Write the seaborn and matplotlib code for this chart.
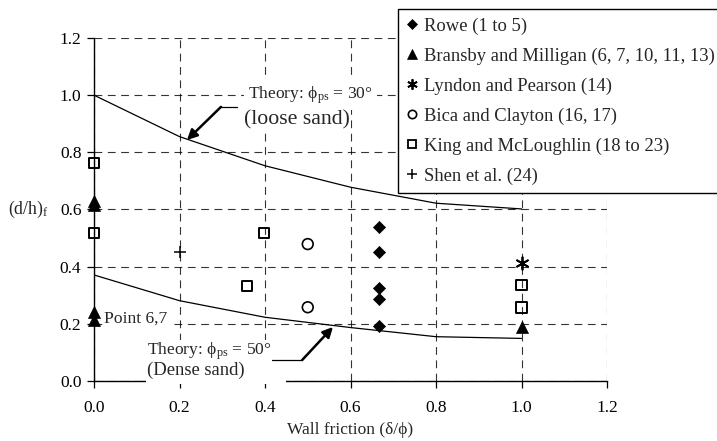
import matplotlib
matplotlib.use("Agg")
import matplotlib.pyplot as plt
from matplotlib.patches import Rectangle
from matplotlib.lines import Line2D
import seaborn as sns

# Measured failure depths (d/h)_f against wall friction ratio delta/phi
rowe_x = [0.667, 0.667, 0.667, 0.667, 0.667]
rowe_y = [0.54, 0.45, 0.325, 0.287, 0.194]

bransby_x = [0.0, 0.0, 0.0, 0.0, 1.0]
bransby_y = [0.63, 0.615, 0.24, 0.212, 0.189]

lyndon_x = [1.0]
lyndon_y = [0.413]

bica_x = [0.5, 0.5]
bica_y = [0.479, 0.258]

king_x = [0.0, 0.0, 0.358, 0.397, 1.0, 1.0]
king_y = [0.763, 0.518, 0.332, 0.517, 0.337, 0.257]

shen_x = [0.2]
shen_y = [0.452]

# Theoretical curves
theory_x = [0.0, 0.2, 0.4, 0.6, 0.8, 1.0]
loose_y = [1.0, 0.855, 0.753, 0.678, 0.622, 0.602]
dense_y = [0.371, 0.281, 0.223, 0.187, 0.155, 0.149]

x_ticks = [0.0, 0.2, 0.4, 0.6, 0.8, 1.0, 1.2]
y_ticks = [0.0, 0.2, 0.4, 0.6, 0.8, 1.0, 1.2]

sns.set_style("white")
plt.rcParams["font.family"] = ["Liberation Serif", "DejaVu Serif"]
plt.rcParams["mathtext.fontset"] = "custom"
plt.rcParams["mathtext.rm"] = "Liberation Serif"
plt.rcParams["mathtext.it"] = "Liberation Serif:italic"

PHI = "\u03d5"

fig = plt.figure(figsize=(7.17, 4.41), dpi=100)
ax = fig.add_axes([94 / 717, 1 - 381 / 441, 513 / 717, 343 / 441])

# theory curves
sns.lineplot(x=theory_x, y=loose_y, ax=ax, color="black", linewidth=0.9,
             sort=False, estimator=None, zorder=2)
sns.lineplot(x=theory_x, y=dense_y, ax=ax, color="black", linewidth=0.9,
             sort=False, estimator=None, zorder=2)

common = dict(ax=ax, color="black", zorder=5, legend=False, clip_on=False)
sns.scatterplot(x=rowe_x, y=rowe_y, marker="D", s=38, edgecolor="black",
                linewidth=0.5, **common)
sns.scatterplot(x=bransby_x, y=bransby_y, marker="^", s=75, edgecolor="black",
                linewidth=0.5, **common)
sns.scatterplot(x=lyndon_x, y=lyndon_y, marker=(6, 2, 0), s=80, edgecolor="black",
                linewidth=1.3, **common)
sns.scatterplot(x=bica_x, y=bica_y, marker="o", s=60, facecolor="none",
                edgecolor="black", linewidth=1.2, **common)
sns.scatterplot(x=king_x, y=king_y, marker="s", s=55, facecolor="none",
                edgecolor="black", linewidth=1.4, **common)
sns.scatterplot(x=shen_x, y=shen_y, marker="+", s=70, edgecolor="black",
                linewidth=1.1, **common)

ax.set_xlim(0, 1.2)
ax.set_ylim(0, 1.2)
ax.set_xticks(x_ticks)
ax.set_yticks(y_ticks)
ax.set_xticklabels([f"{v:.1f}" for v in x_ticks], fontsize=12.5)
ax.set_yticklabels([f"{v:.1f}" for v in y_ticks], fontsize=12.5)
ax.tick_params(axis="both", direction="out", length=5, width=0.9, colors="black",
               bottom=True, left=True)
ax.tick_params(axis="x", pad=9)
ax.tick_params(axis="y", pad=4)
ax.grid(True, color="black", linestyle=(0, (7, 5)), linewidth=0.8, alpha=0.8)
ax.set_axisbelow(True)
for side in ("top", "right"):
    ax.spines[side].set_visible(False)
for side in ("left", "bottom"):
    ax.spines[side].set_color("black")
    ax.spines[side].set_linewidth(1.0)

ax.set_xlabel(f"Wall friction (δ/{PHI})", fontsize=12.5, labelpad=4)
ax.set_ylabel("(d/h)$_\\mathrm{f}$", fontsize=12.8, rotation=0, va="center", ha="center")
ax.yaxis.set_label_coords(-0.127, 0.5)

arrow_style = dict(arrowstyle="-|>,head_length=0.6,head_width=0.3",
                   color="black", linewidth=1.8, shrinkA=0, shrinkB=0)

# loose sand annotation
ax.text(0.360, 1.0, f"Theory: {PHI}$_\\mathrm{{ps}}$ = 30°", fontsize=12.6,
        va="center", ha="left",
        bbox=dict(facecolor="white", edgecolor="none", pad=3), zorder=4)
ax.text(0.351, 0.913, "(loose sand)", fontsize=15.7, va="center", ha="left",
        bbox=dict(facecolor="white", edgecolor="none", pad=1), zorder=4)
ax.plot([0.334, 0.297], [0.959, 0.959], color="black", linewidth=0.9, zorder=4)
ax.annotate("", xy=(0.2175, 0.843), xytext=(0.297, 0.959),
            arrowprops=arrow_style, zorder=4)

ax.text(0.0234, 0.217, "Point 6,7", fontsize=12.6, va="center", ha="left",
        bbox=dict(facecolor="white", edgecolor="none", pad=1), zorder=4)

# dense sand annotation
ax.add_patch(Rectangle((0.121, -0.01), 0.328, 0.155, transform=ax.transData,
                       facecolor="white", edgecolor="none", clip_on=False, zorder=3))
ax.text(0.124, 0.105, f"Theory: {PHI}$_\\mathrm{{ps}}$ = 50°", fontsize=12.6,
        va="center", ha="left", zorder=4)
ax.text(0.124, 0.0385, "(Dense sand)", fontsize=13.4, va="center", ha="left", zorder=4)
ax.plot([0.416, 0.487], [0.0735, 0.0735], color="black", linewidth=0.9, zorder=4)
ax.annotate("", xy=(0.559, 0.189), xytext=(0.487, 0.0735),
            arrowprops=arrow_style, zorder=4)

# legend
entries = [
    ("D", "black", 5.5, 0.5, "Rowe (1 to 5)"),
    ("^", "black", 7.5, 0.5, "Bransby and Milligan (6, 7, 10, 11, 13)"),
    ((6, 2, 0), "black", 7.5, 1.3, "Lyndon and Pearson (14)"),
    ("o", "none", 6.0, 1.2, "Bica and Clayton (16, 17)"),
    ("s", "none", 6.0, 1.3, "King and McLoughlin (18 to 23)"),
    ("+", "black", 7.5, 1.1, "Shen et al. (24)"),
]
handles = [Line2D([], [], linestyle="", marker=m, markerfacecolor=fc,
                  markeredgecolor="black", markersize=ms, markeredgewidth=mew,
                  color="black", label=lab)
           for m, fc, ms, mew, lab in entries]
leg = fig.legend(handles=handles, loc="upper left", bbox_to_anchor=(398 / 717, 1 - 9 / 441),
                 frameon=True, fancybox=False, fontsize=13.4, handlelength=0.6,
                 handletextpad=0.35, labelspacing=0.68, borderpad=0.45,
                 borderaxespad=0)
leg.get_frame().set_edgecolor("black")
leg.get_frame().set_linewidth(1.0)
leg.get_frame().set_facecolor("white")
leg.get_frame().set_alpha(1)
leg.set_zorder(10)

fig.savefig("out.png", dpi=100)
